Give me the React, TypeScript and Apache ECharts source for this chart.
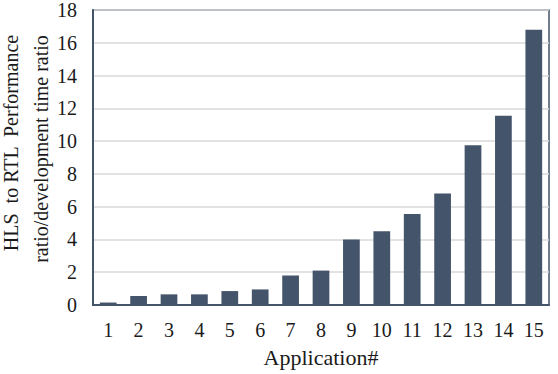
import React, { useEffect, useRef } from "react";
import * as echarts from "echarts";

const categories = ["1", "2", "3", "4", "5", "6", "7", "8", "9", "10", "11", "12", "13", "14", "15"];
const ratios = [0.15, 0.55, 0.65, 0.65, 0.85, 0.95, 1.8, 2.1, 4.0, 4.5, 5.55, 6.8, 9.75, 11.55, 16.8];
const yTitleLine1 = "HLS  to RTL  Performance";
const yTitleLine2 = "ratio/development time ratio";
const xTitle = "Application#";

const FONT = "Liberation Serif";

export default function App() {
  const ref = useRef<HTMLDivElement>(null);
  useEffect(() => {
    if (!ref.current) return;
    const chart = echarts.init(ref.current, undefined, { renderer: "svg" });
    chart.setOption({
      animation: false,
      backgroundColor: "#ffffff",
      textStyle: { fontFamily: FONT },
      grid: {
        left: 93,
        right: 9,
        top: 8,
        bottom: 69,
        show: true,
        borderColor: "#44546a",
        borderWidth: 1.5,
        containLabel: false,
      },
      xAxis: {
        type: "category",
        data: categories,
        axisTick: { show: false },
        axisLine: { show: true, lineStyle: { color: "#44546a", width: 2 } },
        axisLabel: { color: "#1a1a1a", fontFamily: FONT, fontSize: 20, margin: 15 },
      },
      yAxis: {
        type: "value",
        min: 0,
        max: 18,
        interval: 2,
        axisTick: { show: false },
        axisLine: { show: true, lineStyle: { color: "#44546a", width: 2 } },
        axisLabel: { color: "#1a1a1a", fontFamily: FONT, fontSize: 20, margin: 16 },
        splitLine: { show: true, lineStyle: { color: "#d9d9d9", width: 1.5 } },
      },
      series: [
        {
          type: "bar",
          data: ratios,
          barWidth: "55%",
          itemStyle: { color: "#44546a" },
        },
      ],
      graphic: [
        {
          type: "text",
          x: 11,
          y: 143,
          rotation: Math.PI / 2,
          style: {
            text: yTitleLine1,
            fontFamily: FONT,
            fontSize: 20,
            fill: "#1a1a1a",
            textAlign: "center",
            textVerticalAlign: "middle",
          },
        },
        {
          type: "text",
          x: 41,
          y: 149,
          rotation: Math.PI / 2,
          style: {
            text: yTitleLine2,
            fontFamily: FONT,
            fontSize: 20,
            fill: "#1a1a1a",
            textAlign: "center",
            textVerticalAlign: "middle",
          },
        },
        {
          type: "text",
          x: 321,
          y: 357,
          style: {
            text: xTitle,
            fontFamily: FONT,
            fontSize: 22,
            fill: "#1a1a1a",
            textAlign: "center",
            textVerticalAlign: "middle",
          },
        },
      ],
    });
    return () => chart.dispose();
  }, []);
  return <div ref={ref} style={{ width: 558, height: 374, position: "absolute", left: 0, top: 0 }} />;
}
